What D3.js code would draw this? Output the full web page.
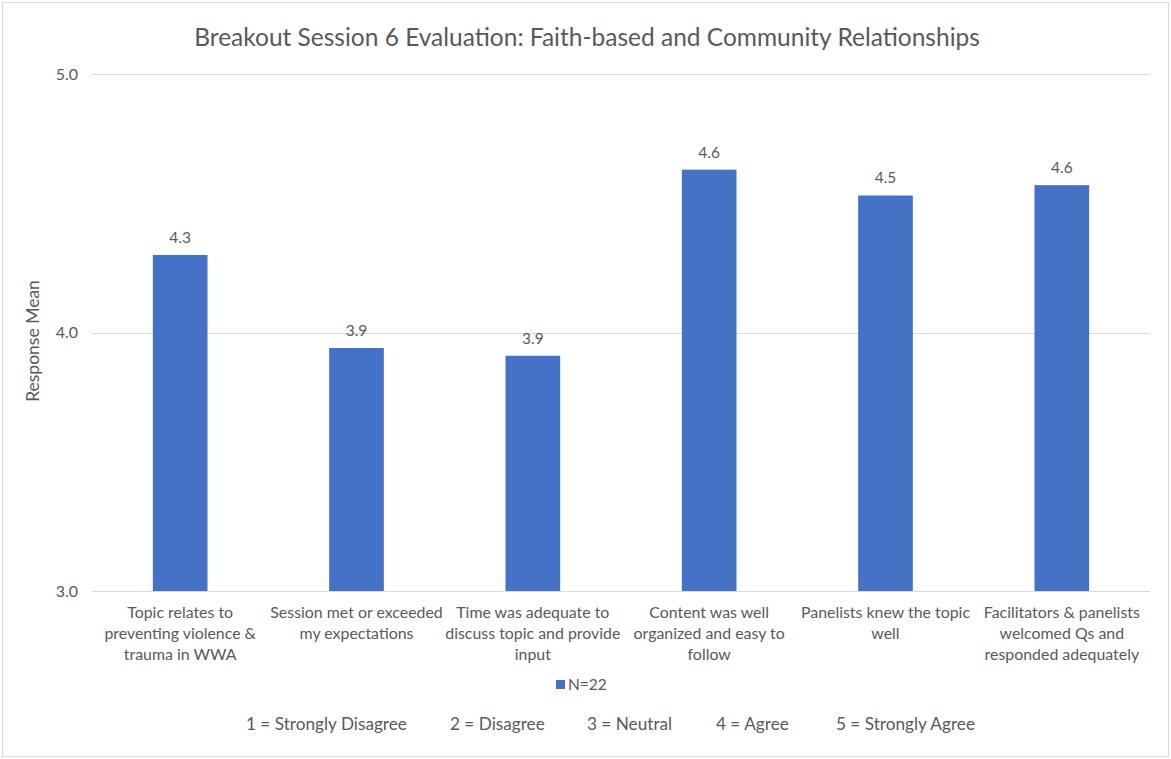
<!DOCTYPE html>
<html>
<head>
<meta charset="utf-8">
<script src="https://cdn.jsdelivr.net/npm/d3@7"></script>
<style>
  body { margin: 0; background: #fff; }
  text { font-family: Lato, "Open Sans", sans-serif; fill: #595959; }
</style>
</head>
<body>
<div id="chart"></div>
<script>
// Chart data
const categories = [
    'Topic relates to preventing violence & trauma in WWA',
    'Session met or exceeded my expectations',
    'Time was adequate to discuss topic and provide input',
    'Content was well organized and easy to follow',
    'Panelists knew the topic well',
    'Facilitators & panelists welcomed Qs and responded adequately'
];
const categoryLines = [
    ['Topic relates to', 'preventing violence &', 'trauma in WWA'],
    ['Session met or exceeded', 'my expectations'],
    ['Time was adequate to', 'discuss topic and provide', 'input'],
    ['Content was well', 'organized and easy to', 'follow'],
    ['Panelists knew the topic', 'well'],
    ['Facilitators & panelists', 'welcomed Qs and', 'responded adequately']
];
const means = [4.30, 3.94, 3.91, 4.63, 4.53, 4.57];
const yTicks = [3.0, 4.0, 5.0];
const seriesName = 'N=22';
const scaleKey = ['1 = Strongly Disagree', '2 = Disagree', '3 = Neutral', '4 = Agree', '5 = Strongly Agree'];
const title = 'Breakout Session 6 Evaluation: Faith-based and Community Relationships';

const width = 1171;
const height = 759;
const margin = { top: 74, right: 21, bottom: 168, left: 92 };
const barColor = '#4472C4';

const svg = d3.select('#chart').append('svg')
    .attr('width', width)
    .attr('height', height);

// Chart border
svg.append('rect')
    .attr('x', 2.5).attr('y', 2.5)
    .attr('width', width - 5).attr('height', height - 5)
    .attr('fill', 'none')
    .attr('stroke', '#d9d9d9');

const x = d3.scaleBand()
    .domain(categories)
    .range([margin.left, width - margin.right])
    .paddingInner(0.69)
    .paddingOuter(0.345);

const y = d3.scaleLinear()
    .domain([3, 5])
    .range([height - margin.bottom, margin.top]);

// Title
svg.append('text')
    .attr('x', 587)
    .attr('y', 46)
    .attr('text-anchor', 'middle')
    .style('font-size', '24.5px')
    .text(title);

// Gridlines
svg.append('g')
    .selectAll('line')
    .data(yTicks)
    .join('line')
    .attr('x1', margin.left)
    .attr('x2', width - margin.right)
    .attr('y1', d => Math.round(y(d)) + 0.5)
    .attr('y2', d => Math.round(y(d)) + 0.5)
    .attr('stroke', '#d9d9d9')
    .attr('stroke-width', 1);

// Y axis labels
const yAxis = d3.axisLeft(y)
    .tickValues(yTicks)
    .tickFormat(d3.format('.1f'))
    .tickSize(0)
    .tickPadding(14);

const yAxisG = svg.append('g')
    .attr('transform', `translate(${margin.left},0)`)
    .call(yAxis);
yAxisG.select('.domain').remove();
yAxisG.selectAll('text')
    .style('font-size', '16px')
    .style('font-family', 'Lato, sans-serif')
    .attr('fill', '#595959');

// Y axis title
svg.append('text')
    .attr('transform', `translate(39,341) rotate(-90)`)
    .attr('text-anchor', 'middle')
    .style('font-size', '17.5px')
    .text('Response Mean');

// Bars
svg.append('g')
    .selectAll('rect')
    .data(means)
    .join('rect')
    .attr('x', (d, i) => x(categories[i]))
    .attr('y', d => y(d))
    .attr('width', x.bandwidth())
    .attr('height', d => y(3) - y(d))
    .attr('fill', barColor);

// Data labels
svg.append('g')
    .selectAll('text')
    .data(means)
    .join('text')
    .attr('x', (d, i) => x(categories[i]) + x.bandwidth() / 2)
    .attr('y', d => y(d) - 12)
    .attr('text-anchor', 'middle')
    .style('font-size', '15.5px')
    .text(d => d3.format('.1f')(d));

// Category labels
const catG = svg.append('g')
    .selectAll('text')
    .data(categories)
    .join('text')
    .attr('text-anchor', 'middle')
    .style('font-size', '15.9px')
    .attr('x', d => x(d) + x.bandwidth() / 2)
    .attr('y', y(3) + 27);

catG.each(function(d, i) {
    const t = d3.select(this);
    categoryLines[i].forEach((line, j) => {
        t.append('tspan')
            .attr('x', x(d) + x.bandwidth() / 2)
            .attr('dy', j === 0 ? 0 : 21)
            .text(line);
    });
});

// Legend
svg.append('rect')
    .attr('x', 556)
    .attr('y', 680)
    .attr('width', 9)
    .attr('height', 9)
    .attr('fill', barColor);
svg.append('text')
    .attr('x', 568)
    .attr('y', 690)
    .style('font-size', '15.5px')
    .text(seriesName);

// Scale key
const keyX = [246, 450, 587, 716, 836];
svg.append('g')
    .selectAll('text')
    .data(scaleKey)
    .join('text')
    .attr('x', (d, i) => keyX[i])
    .attr('y', 730)
    .style('font-size', '17.2px')
    .text(d => d);
</script>
</body>
</html>
